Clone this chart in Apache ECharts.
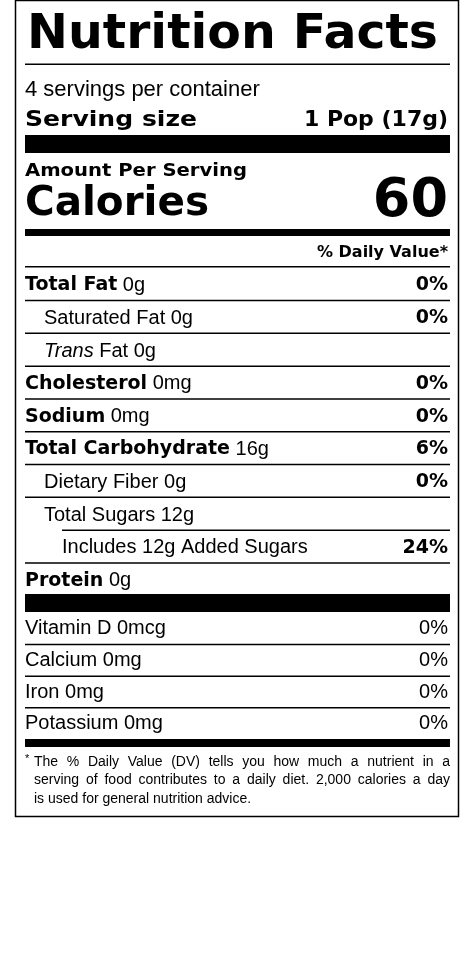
<!DOCTYPE html>
<html><head><meta charset="utf-8">
<script src="https://cdn.jsdelivr.net/npm/echarts@6/dist/echarts.min.js"></script>
<style>html,body{margin:0;padding:0;background:#fff}#c{width:475px;height:965px}</style>
</head><body><div id="c"></div>
<script>
var title = 'Nutrition Facts';
var servingsText = '4 servings per container';
var servingSizeLabel = 'Serving size';
var servingSizeValue = '1 Pop (17g)';
var amountLabel = 'Amount Per Serving';
var caloriesLabel = 'Calories';
var caloriesValue = '60';
var dvHeader = '% Daily Value*';
var nutrientNames = ['Total Fat','Saturated Fat','Trans Fat','Cholesterol','Sodium','Total Carbohydrate','Dietary Fiber','Total Sugars','Includes 12g Added Sugars','Protein'];
var nutrientAmounts = ['0g','0g','0g','0mg','0mg','16g','0g','12g','','0g'];
var nutrientDV = ['0%','0%','','0%','0%','6%','0%','','24%',''];
var nutrientLevel = [0,1,1,0,0,0,1,1,2,0];
var vitaminNames = ['Vitamin D','Calcium','Iron','Potassium'];
var vitaminAmounts = ['0mcg','0mg','0mg','0mg'];
var vitaminDV = ['0%','0%','0%','0%'];
var footnote = ['The % Daily Value (DV) tells you how much a nutrient in a','serving of food contributes to a daily diet. 2,000 calories a day','is used for general nutrition advice.'];

var H = 'DejaVu Sans', R = 'Liberation Sans';
var L = 25, RT = 450;
var g = [];
var ctx = document.createElement('canvas').getContext('2d');
function rect(y, h, x0){ x0 = x0 || L; g.push({type:'rect', shape:{x:x0, y:y, width:RT-x0, height:h}, style:{fill:'#000'}}); }
function text(x, y, t, font, size, weight, align, fitW){
  var f = (weight||'normal')+' '+size+'px "'+font+'"';
  var o = {type:'text', x:x, y:y, style:{text:t, font:f, fill:'#000', textAlign:align||'left', textVerticalAlign:'middle'}};
  if (fitW) { ctx.font = f; o.scaleX = fitW / ctx.measureText(t).width; o.originX = 0; o.originY = 0; }
  g.push(o); return o;
}
g.push({type:'rect', shape:{x:15.5, y:0.5, width:443, height:816}, style:{fill:'none', stroke:'#000', lineWidth:1.5}});
text(L+2, 36, title, H, 48, 'bold', 'left', 411);
rect(63.5, 1.5);
text(L, 90, servingsText, R, 22);
text(L, 120, servingSizeLabel, H, 22, 'bold', 'left', 172);
text(RT-2, 120, servingSizeValue, H, 22, 'bold', 'right');
rect(135, 18);
text(L, 172, amountLabel, H, 17, 'bold', 'left', 222);
text(L, 205, caloriesLabel, H, 40, 'bold', 'left', 184);
text(RT-2, 202, caloriesValue, H, 54, 'bold', 'right');
rect(229, 7);
text(RT-2, 253, dvHeader, H, 16, 'bold', 'right');
rect(266, 1.5);

var rowH = 32.8, y0 = 267;
var indents = [L, 44, 62];
var rich = {b:{font:'bold 19px "'+H+'"', fill:'#000'}, r:{font:'normal 20px "'+R+'"', fill:'#000'}, it:{font:'italic 20px "'+R+'"', fill:'#000'}};
nutrientNames.forEach(function(n, i){
  var cy = y0 + rowH*(i+0.5) + 2;
  var lvl = nutrientLevel[i];
  var str;
  if (n === 'Trans Fat') str = '{it|Trans}{r| Fat '+nutrientAmounts[i]+'}';
  else if (lvl === 0) str = '{b|'+n+'}{r| '+nutrientAmounts[i]+'}';
  else str = '{r|'+n+(nutrientAmounts[i] ? ' '+nutrientAmounts[i] : '')+'}';
  g.push({type:'text', x:indents[lvl], y:cy, style:{text:str, rich:rich, fill:'#000', textVerticalAlign:'middle', font:'20px "'+R+'"'}});
  if (nutrientDV[i]) text(RT-2, cy, nutrientDV[i], H, 19, 'bold', 'right');
  if (i < nutrientNames.length - 1) rect(y0 + rowH*(i+1), 1.5, nutrientLevel[i+1] === 2 ? 62 : L);
});
rect(594, 18);
var vy0 = 612, vH = 31.7;
vitaminNames.forEach(function(n, i){
  var cy = vy0 + vH*(i+0.5) + 1;
  text(L, cy, n + ' ' + vitaminAmounts[i], R, 20);
  text(RT-2, cy, vitaminDV[i], R, 20, 'normal', 'right');
  if (i < vitaminNames.length - 1) rect(vy0 + vH*(i+1), 1.5);
});
rect(739, 8);
text(L, 759, '*', R, 11);
footnote.forEach(function(f, i){
  var x0 = 34, x1 = 450, y = 762 + i*18.5;
  if (i === footnote.length - 1) { text(x0, y, f, R, 14); return; }
  var words = f.split(' ');
  ctx.font = 'normal 14px "'+R+'"';
  var tot = 0; words.forEach(function(w){ tot += ctx.measureText(w).width; });
  var gap = (x1 - x0 - tot) / (words.length - 1), x = x0;
  words.forEach(function(w){ text(x, y, w, R, 14); x += ctx.measureText(w).width + gap; });
});
var chart = echarts.init(document.getElementById('c'));
chart.setOption({graphic:{elements:g}});
</script></body></html>
